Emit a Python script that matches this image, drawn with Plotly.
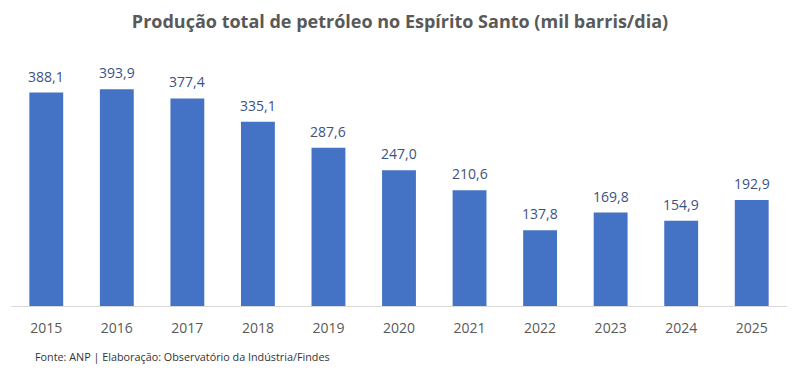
import plotly.graph_objects as go

years = ["2015", "2016", "2017", "2018", "2019", "2020", "2021", "2022", "2023", "2024", "2025"]
values = [388.1, 393.9, 377.4, 335.1, 287.6, 247.0, 210.6, 137.8, 169.8, 154.9, 192.9]
labels = [f"{v:.1f}".replace(".", ",") for v in values]

title_text = "Produção total de petróleo no Espírito Santo (mil barris/dia)"
source_text = "Fonte: ANP | Elaboração: Observatório da Indústria/Findes"

# page body has an 8px margin -> positions are compensated
L, R, T, B = 3, 21, 77.6, 86
W, H = 800, 384
plot_h = H - T - B
plot_w = W - L - R

fig = go.Figure(go.Bar(
    x=years, y=values,
    marker=dict(color="#4472C4", line=dict(width=0)),
    hoverinfo="skip",
))

# on a category axis numeric-looking strings are read as indices, so use the index
annotations = [
    dict(x=i, y=v, text=lab, xref="x", yref="y", showarrow=False,
         xanchor="center", yanchor="middle", yshift=16.5,
         font=dict(family="Open Sans", size=14, color="#3B5284"))
    for i, (v, lab) in enumerate(zip(values, labels))
]
annotations.append(dict(
    text=source_text, xref="paper", yref="paper",
    x=(25 - L) / plot_w, y=(H - B - 349) / plot_h,
    showarrow=False, xanchor="left", yanchor="middle",
    font=dict(family="Open Sans", size=10.8, color="#333333")))

fig.update_layout(
    width=W, height=H,
    margin=dict(l=L, r=R, t=T, b=B),
    paper_bgcolor="white", plot_bgcolor="white",
    bargap=0.52,
    showlegend=False,
    title=dict(text=f"<b>{title_text}</b>", x=392 / W, xanchor="center",
               y=1 - 14 / H, yanchor="middle",
               font=dict(family="Open Sans", size=18, color="#595959")),
    xaxis=dict(type="category", range=[-0.5, len(years) - 0.5],
               showline=True, linecolor="#D9D9D9", linewidth=1, ticks="",
               ticklabelstandoff=9,
               tickfont=dict(family="Open Sans", size=14, color="#595959"), showgrid=False),
    yaxis=dict(range=[0, 400], visible=False, showgrid=False, zeroline=False),
    annotations=annotations,
)
fig.write_html("out.html")
